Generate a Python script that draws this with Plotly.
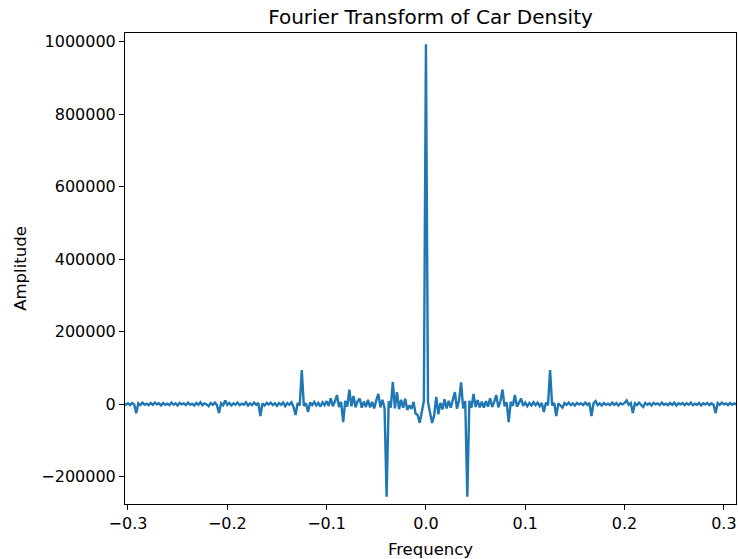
import plotly.graph_objects as go

# Frequency grid (cycles per sample), step 1/480
freq = [k / 480 for k in range(-146, 151)]

amp_thousands = [
    3, -2,
    2, -3, 3, -1, -25, 2, -3, 4, -2, 1,
    -3, 3, -2, 4, -1, 2, -4, 3, -2, 1,
    -3, 4, -2, 2, -4, 3, -1, 2, -3, 4,
    -2, 1, -4, 3, -2, 5, -3, 2, -1, -6,
    3, -2, 4, -3, -25, 2, -3, 10, -2, 3,
    -4, 2, -2, 4, -3, 1, -2, 5, -4, 2,
    -3, 4, -2, 3, -33, 2, -4, 3, -1, 4,
    -3, 2, -5, 3, -2, 4, -6, 3, -2, 5,
    -8, -30, 3, -4, 94, -5, 2, -22, 4, -3,
    6, -4, 3, -7, 5, -3, 8, -5, 16, -6,
    7, 25, -8, 6, -50, 9, -7, 40, -6, 22,
    -9, 8, 15, -10, 7, -8, 12, -9, 6, -12,
    10, 28, -9, 12, -11, -256, 8, -10, 61, -12,
    33, -14, 12, -10, 15, -16, -4, -13, 6, -26,
    -30, -52, -22, 8, 993, 6, -25, -52, -30, 20,
    -28, 3, -15, 13, -12, 9, -10, 14, 33, -13,
    10, 60, -12, 8, -256, 9, -10, 28, -8, 11,
    -9, 7, -10, 8, -7, 16, -8, 6, 25, -9,
    7, 40, -6, 5, -50, 6, -5, 25, -7, 4,
    15, -5, 4, -6, 3, -4, 5, -3, 4, -6,
    3, -22, 4, -3, 94, -4, 3, -33, 2, -4,
    -10, 3, -2, 4, -3, 2, -4, 3, -1, 2,
    -3, 4, -2, 3, -33, 2, 8, -3, 2, -4,
    3, -2, 1, -3, 4, -2, 3, -4, 2, -1,
    3, 10, -2, 3, -25, 2, -3, 4, -1, -8,
    3, -2, 2, -4, 3, -1, 2, -3, 4, -2,
    1, -3, 3, -2, 4, -4, 2, -1, 3, -3,
    2, -2, 4, -3, 1, -2, 3, -4, 2, -1,
    3, -3, 2, -2, -25, 3, -2, 4, -1, 2,
    -3, 3, -2, 2, -1,
]
amplitude = [v * 1000 for v in amp_thousands]

x_ticks = [-0.3, -0.2, -0.1, 0.0, 0.1, 0.2, 0.3]
y_ticks = [-200000, 0, 200000, 400000, 600000, 800000, 1000000]

fig = go.Figure()
fig.add_trace(go.Scatter(x=freq, y=amplitude, mode="lines",
                         line=dict(color="#1f77b4", width=2.4),
                         showlegend=False))

font_family = "DejaVu Sans"
axis_common = dict(
    showline=True, linecolor="black", linewidth=1, mirror=True,
    ticks="outside", ticklen=5, tickwidth=1, tickcolor="black",
    showgrid=False, zeroline=False, automargin=False,
    tickfont=dict(family=font_family, size=16, color="black"),
)

fig.update_layout(
    width=738, height=559,
    margin=dict(l=125, r=2, t=33, b=55),
    paper_bgcolor="white", plot_bgcolor="white",
    title=dict(text="Fourier Transform of Car Density",
               font=dict(family=font_family, size=20, color="black"),
               x=(125 + 736) / 2 / 738, xanchor="center",
               y=1 - 17 / 559, yanchor="middle"),
    xaxis=dict(range=[-0.303, 0.3122], tickvals=x_ticks, tickformat=".1f",
               title=dict(text="Frequency",
                          font=dict(family=font_family, size=16.5, color="black")),
               **axis_common),
    yaxis=dict(range=[-275900, 1024400], tickvals=y_ticks, tickformat="d",
               title=dict(text="Amplitude", standoff=10,
                          font=dict(family=font_family, size=16.5, color="black")),
               **axis_common),
)

fig.write_html("out.html")
